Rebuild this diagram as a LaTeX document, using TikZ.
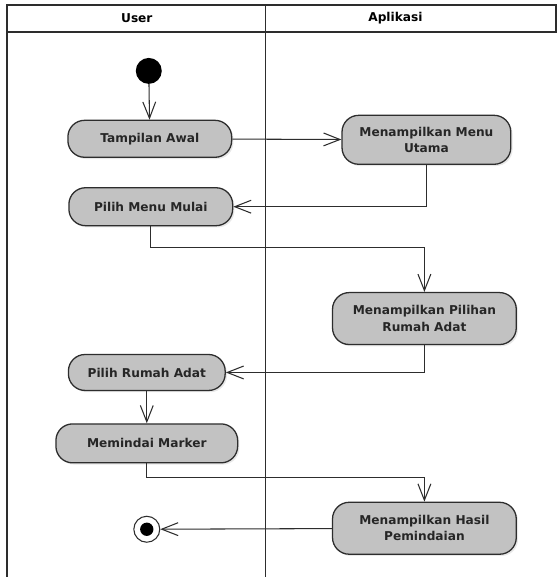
\documentclass[tikz,border=0pt]{standalone}
\usepackage{fontspec}
\setmainfont{DejaVu Sans}
\usepackage{tikz}
\usetikzlibrary{arrows.meta, shadows}
\definecolor{actfill}{RGB}{194,194,194}
\definecolor{lineclr}{RGB}{45,45,45}

\begin{document}
\begin{tikzpicture}[x=0.03cm, y=-0.03cm,
    font=\bfseries\fontsize{10.4}{14}\selectfont,
    lane/.style={draw=lineclr, line width=1.4pt},
    action/.style={draw=lineclr, line width=1.1pt, fill=actfill, rounded corners=0.5cm,
      inner sep=0pt, align=center, text=black!85,
      drop shadow={opacity=0.18, shadow xshift=1.5pt, shadow yshift=-1.5pt}},
    initial/.style={circle, fill=black, minimum size=0.78cm, inner sep=0pt},
    final/.style={circle, draw=lineclr, line width=0.9pt, fill=white, minimum size=0.78cm, inner sep=0pt,
      path picture={\fill[black] (path picture bounding box.center) circle (0.2cm);}},
    flow/.style={lineclr, line width=0.9pt, -{Straight Barb[length=14pt, width=11pt]}}]
    % canvas
    \fill[white] (0,0) rectangle (559,578);

    % swimlanes
    \draw[lane] (7,5) rectangle (557,32);
    \draw[lane] (7,32) -- (7,578);
    \draw[lane] (266,5) -- (266,578);
    \node (hdr-user) at (137,18) {User};
    \node (hdr-app)  at (396,18) {Aplikasi};

    % start / end
    \node[initial] (start) at (149,71) {};
    \node[final]   (end)   at (147,530) {};

    % activities: User
    \node[action, minimum width=4.92cm, minimum height=1.11cm] (tampilan) at (150,139) {Tampilan Awal};
    \node[action, minimum width=4.92cm, minimum height=1.14cm] (menumulai) at (151,207) {Pilih Menu Mulai};
    \node[action, minimum width=4.71cm, minimum height=1.08cm] (pilihrumah) at (147,373) {Pilih Rumah Adat};
    \node[action, minimum width=5.46cm, minimum height=1.17cm] (memindai) at (147,444) {Memindai Marker};

    % activities: Aplikasi
    \node[action, minimum width=5.07cm, minimum height=1.47cm] (menuutama) at (427,140) {Menampilkan Menu\\Utama};
    \node[action, minimum width=5.52cm, minimum height=1.56cm] (pilihan) at (425,319) {Menampilkan Pilihan\\Rumah Adat};
    \node[action, minimum width=5.52cm, minimum height=1.56cm] (hasil) at (425,529) {Menampilkan Hasil\\Pemindaian};

    % control flow
    \draw[flow] (start) -- (tampilan);
    \draw[flow] (tampilan) -- (menuutama);
    \draw[flow] (menuutama.south) |- (menumulai.east);
    \draw[flow] (menumulai.south) -- ++(0,21) -| (pilihan.north);
    \draw[flow] (pilihan.south) |- (pilihrumah.east);
    \draw[flow] (pilihrumah) -- (memindai);
    \draw[flow] (memindai.south) -- ++(0,14) -| (hasil.north);
    \draw[flow] (hasil) -- (end);
\end{tikzpicture}
\end{document}
